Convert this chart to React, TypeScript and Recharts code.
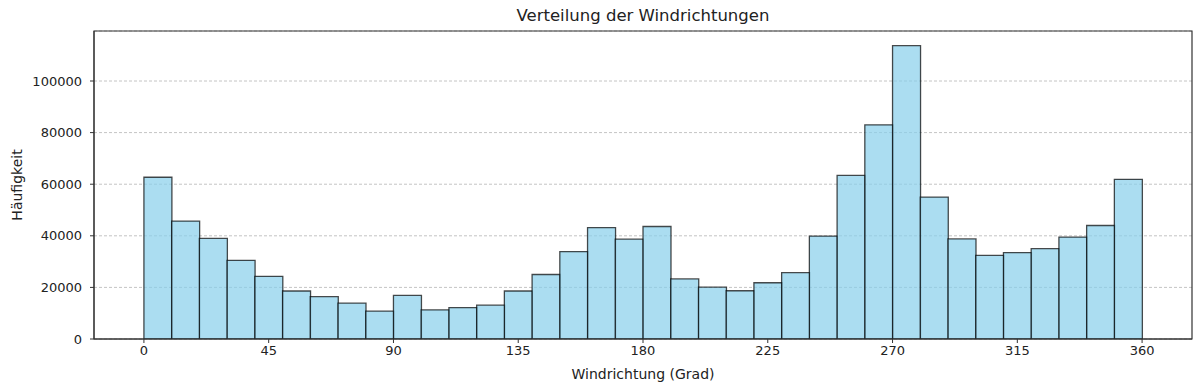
import React from 'react';
import {
  ComposedChart, Bar, XAxis, YAxis, CartesianGrid, ReferenceArea,
} from 'recharts';

// bin centres (10° bins) and counts
const binCenters = [
  5, 15, 25, 35, 45, 55, 65, 75, 85, 95, 105, 115,
  125, 135, 145, 155, 165, 175, 185, 195, 205, 215, 225, 235,
  245, 255, 265, 275, 285, 295, 305, 315, 325, 335, 345, 355,
];
const counts = [
  62700, 45700, 39000, 30500, 24300, 18600, 16400, 13900, 10800, 16900, 11300, 12200,
  13100, 18600, 25000, 33900, 43200, 38700, 43600, 23300, 20100, 18700, 21800, 25700,
  39900, 63400, 83000, 113700, 55000, 38800, 32400, 33500, 35000, 39500, 44000, 61900,
];
const xTicks = [0, 45, 90, 135, 180, 225, 270, 315, 360];
const yTicks = [0, 20000, 40000, 60000, 80000, 100000];
const binEdges = [0, 360];

const data = binCenters.map((c, i) => ({ dir: c, count: counts[i] }));

// matplotlib-like 5% margins
const xSpan = binEdges[1] - binEdges[0];
const xDomain: [number, number] = [binEdges[0] - 0.05 * xSpan, binEdges[1] + 0.05 * xSpan];
const yMax = Math.max(...counts) * 1.05;

const FONT = '"DejaVu Sans", sans-serif';
const tickStyle = { fill: '#222', fontSize: 13, fontFamily: FONT };

export default function App() {
  return (
    <div style={{ position: 'absolute', left: 0, top: 0, width: 1200, height: 392, background: '#fff' }}>
      <div
        style={{
          position: 'absolute', left: 94, width: 1098, top: 5, textAlign: 'center',
          fontFamily: FONT, fontSize: 16.5, color: '#222', lineHeight: '22px',
        }}
      >
        Verteilung der Windrichtungen
      </div>
      <ComposedChart
        width={1200}
        height={392}
        data={data}
        margin={{ top: 31, right: 8, left: 0, bottom: 0 }}
        barCategoryGap={0}
        barGap={0}
      >
        <CartesianGrid vertical={false} stroke="#c4c4c4" strokeDasharray="3 2" />
        <XAxis
          dataKey="dir"
          type="number"
          domain={xDomain}
          ticks={xTicks}
          allowDataOverflow
          height={53}
          tickSize={4}
          tickMargin={3}
          tick={tickStyle}
          stroke="#333"
          label={{
            value: 'Windrichtung (Grad)', position: 'insideBottom', offset: 13,
            style: { fill: '#222', fontSize: 14, fontFamily: FONT },
          }}
        />
        <YAxis
          type="number"
          domain={[0, yMax]}
          ticks={yTicks}
          allowDataOverflow
          width={94}
          tickSize={4}
          tickMargin={8}
          tick={tickStyle}
          stroke="#333"
          label={{
            value: 'Häufigkeit', angle: -90, position: 'insideLeft', offset: 17,
            style: { fill: '#222', fontSize: 14, fontFamily: FONT, textAnchor: 'middle' },
          }}
        />
        <Bar
          dataKey="count"
          fill="#87CEEB"
          fillOpacity={0.7}
          stroke="#000"
          strokeOpacity={0.7}
          strokeWidth={1.3}
          isAnimationActive={false}
        />
        <ReferenceArea
          x1={xDomain[0]}
          x2={xDomain[1]}
          y1={0}
          y2={yMax}
          fill="none"
          stroke="#333"
          strokeWidth={1.2}
          ifOverflow="visible"
        />
      </ComposedChart>
    </div>
  );
}
